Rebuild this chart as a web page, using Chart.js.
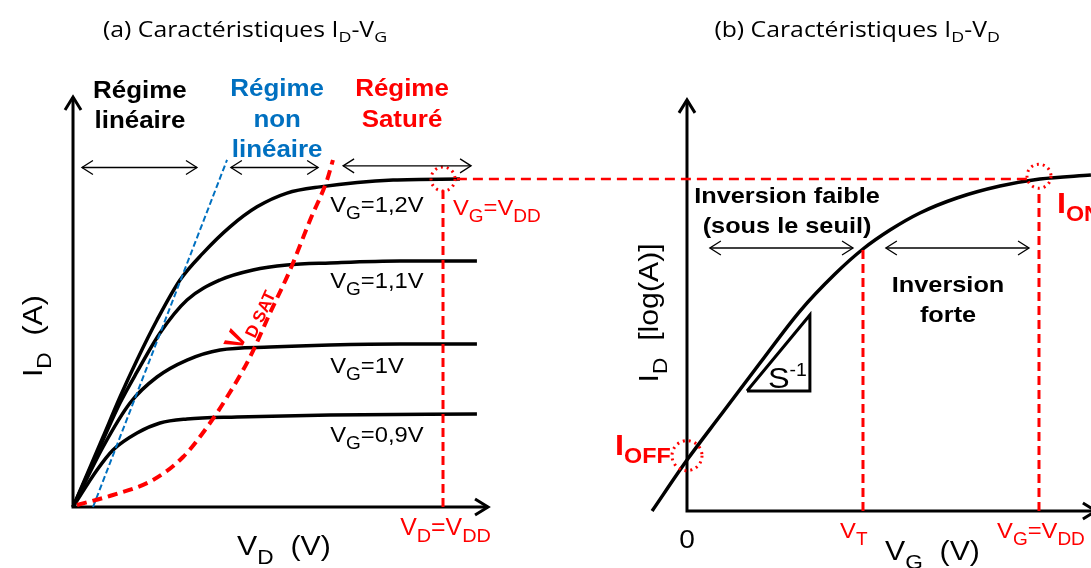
<!DOCTYPE html>
<html>
<head>
<meta charset="utf-8">
<script src="https://cdn.jsdelivr.net/npm/chart.js@4/dist/chart.umd.min.js"></script>
<style>
html, body { margin: 0; padding: 0; background: #fff; }
</style>
</head>
<body>
<canvas id="myChart" width="1091" height="568"></canvas>
<script>
const ctx = document.getElementById('myChart');
var myChart = null;

// tensions (V)
const VDD = 1.2;
const VT = 0.6;

// (a) ID-VD : une courbe par VG (ID normalise, 1 = ION)
const vdVg12 = [0, 0.0973, 0.1524, 0.2076, 0.2724, 0.347, 0.4216, 0.5092, 0.5968, 0.694, 0.801, 1.038, 1.255];
const idVg12 = [0, 0.2134, 0.3354, 0.4482, 0.570, 0.692, 0.774, 0.854, 0.915, 0.957, 0.976, 0.997, 1.0];
const vdVg11 = [0, 0.0973, 0.1524, 0.2076, 0.2822, 0.3697, 0.4768, 0.5838, 0.694, 0.8335, 1.0605, 1.31];
const idVg11 = [0, 0.2043, 0.317, 0.4116, 0.5305, 0.631, 0.692, 0.7226, 0.7378, 0.744, 0.75, 0.75];
const vdVg10 = [0, 0.0973, 0.1849, 0.2724, 0.3697, 0.4768, 0.639, 0.8335, 1.0605, 1.31];
const idVg10 = [0, 0.183, 0.317, 0.3963, 0.448, 0.4787, 0.4878, 0.4939, 0.497, 0.497];
const vdVg09 = [0, 0.0778, 0.1297, 0.2076, 0.2822, 0.3697, 0.5319, 0.8335, 1.31];
const idVg09 = [0, 0.1128, 0.1738, 0.2256, 0.2561, 0.2683, 0.2744, 0.2805, 0.2835];

// limite regime lineaire (bleu) et VD SAT (rouge)
const vdLin = [0.0649, 0.4995];
const idLin = [0, 1.058];
const vdSat = [0.013, 0.1297, 0.2595, 0.3568, 0.4443, 0.4995, 0.574, 0.639, 0.704, 0.769, 0.824, 0.843];
const idSat = [0.006, 0.0366, 0.0823, 0.1524, 0.256, 0.335, 0.457, 0.5915, 0.7226, 0.875, 0.997, 1.058];

// (b) ID-VG en log
const vgTrans = [-0.119, 0, 0.1125, 0.2489, 0.3853, 0.5045, 0.6, 0.692, 0.794, 0.92, 1.067, 1.203, 1.377];
const logIdTrans = [-10.0, -9.079, -8.283, -7.326, -6.386, -5.717, -5.265, -4.922, -4.614, -4.343, -4.127, -4.0, -3.928];
const logIon = -4.0;
const logIoff = -9.0;
const logMin = -10;

// triangle de pente S-1
const vgPente = [0.2045, 0.419, 0.419, 0.2045];
const logPente = [-7.832, -6.458, -7.832, -7.832];

// etiquettes des courbes
const labelsVg = ['V_{G}=1,2V', 'V_{G}=1,1V', 'V_{G}=1V', 'V_{G}=0,9V'];

const noir = '#000000';
const rouge = '#FF0000';
const bleu = '#0070C0';

function pts(xs, ys) {
    return xs.map((x, i) => ({ x: x, y: ys[i] }));
}

function courbe(xs, ys, couleur, largeur, tirets, panneau, ordre, lisse) {
    return {
        data: pts(xs, ys),
        borderColor: couleur,
        borderWidth: largeur,
        borderDash: tirets,
        borderCapStyle: 'butt',
        borderJoinStyle: 'miter',
        pointRadius: 0,
        fill: false,
        tension: 0,
        cubicInterpolationMode: lisse ? 'monotone' : 'default',
        xAxisID: panneau == 'L' ? 'xL' : 'xR',
        yAxisID: panneau == 'L' ? 'yL' : 'yR',
        order: ordre
    };
}

// texte avec indices _{..} et exposants ^{..}
function morceaux(t) {
    const out = [];
    const re = /([_^])\{([^}]*)\}/g;
    let last = 0, m;
    while ((m = re.exec(t)) !== null) {
        if (m.index > last) out.push([t.slice(last, m.index), 0]);
        out.push([m[2], m[1] == '_' ? 1 : 2]);
        last = re.lastIndex;
    }
    if (last < t.length) out.push([t.slice(last), 0]);
    return out;
}

function ecrire(c, px, py, it) {
    const fam = it.font || '"Liberation Sans", Arial, sans-serif';
    const gras = it.bold ? 'bold ' : '';
    const sub = it.sub || 0.8;
    const parts = morceaux(it.t);
    const fonte = k => gras + (k ? it.size * sub : it.size) + 'px ' + fam;
    let w = 0;
    parts.forEach(p => { c.font = fonte(p[1]); w += c.measureText(p[0]).width; });
    c.save();
    c.translate(px, py);
    if (it.rot) c.rotate(it.rot * Math.PI / 180);
    c.scale(it.sx || 1.08, 1);
    c.fillStyle = it.color || noir;
    c.textBaseline = 'alphabetic';
    let x = it.align == 'center' ? -w / 2 : 0;
    parts.forEach(p => {
        c.font = fonte(p[1]);
        const dy = p[1] == 1 ? it.size * (it.dsub || 0.33) : (p[1] == 2 ? -it.size * 0.4 : 0);
        c.fillText(p[0], x, dy);
        x += c.measureText(p[0]).width;
    });
    c.restore();
}

function fleche(c, x, y, dx, dy, len, demi) {
    const n = Math.hypot(dx, dy);
    const ux = dx / n, uy = dy / n;
    c.beginPath();
    c.moveTo(x - ux * len - uy * demi, y - uy * len + ux * demi);
    c.lineTo(x, y);
    c.lineTo(x - ux * len + uy * demi, y - uy * len - ux * demi);
    c.stroke();
}

function doubleFleche(c, a, b) {
    c.save();
    c.strokeStyle = noir;
    c.lineWidth = 1.3;
    c.setLineDash([]);
    c.beginPath();
    c.moveTo(a[0], a[1]);
    c.lineTo(b[0], b[1]);
    c.stroke();
    fleche(c, b[0], b[1], 1, 0, 11, 7);
    fleche(c, a[0], a[1], -1, 0, 11, 7);
    c.restore();
}

function cercle(c, p, r) {
    c.save();
    c.strokeStyle = rouge;
    c.lineWidth = 3;
    c.setLineDash([2, 4]);
    c.beginPath();
    c.arc(p[0], p[1], r, 0, Math.PI * 2);
    c.stroke();
    c.restore();
}

const textes = [
    { p: 'L', x: 0.217, y: 1.247, t: 'Régime', size: 24, bold: true, align: 'center' },
    { p: 'L', x: 0.217, y: 1.155, t: 'linéaire', size: 24, bold: true, align: 'center' },
    { p: 'L', x: 0.662, y: 1.253, t: 'Régime', size: 24, bold: true, align: 'center', color: bleu },
    { p: 'L', x: 0.662, y: 1.159, t: 'non', size: 24, bold: true, align: 'center', color: bleu },
    { p: 'L', x: 0.662, y: 1.067, t: 'linéaire', size: 24, bold: true, align: 'center', color: bleu },
    { p: 'L', x: 1.067, y: 1.253, t: 'Régime', size: 24, bold: true, align: 'center', color: rouge },
    { p: 'L', x: 1.067, y: 1.159, t: 'Saturé', size: 24, bold: true, align: 'center', color: rouge },
    { p: 'L', x: 0.834, y: 0.899, t: labelsVg[0], size: 22 },
    { p: 'L', x: 0.834, y: 0.668, t: labelsVg[1], size: 22 },
    { p: 'L', x: 0.834, y: 0.409, t: labelsVg[2], size: 22 },
    { p: 'L', x: 0.834, y: 0.198, t: labelsVg[3], size: 22 },
    { p: 'L', x: 1.232, y: 0.890, t: 'V_{G}=V_{DD}', size: 22, color: rouge },
    { p: 'L', x: 1.061, y: -0.085, t: 'V_{D}=V_{DD}', size: 23, color: rouge },
    { p: 'L', x: 0.532, y: -0.146, t: 'V_{D}  (V)', size: 28, sub: 0.75 },
    { p: 'L', x: -0.1005, y: 0.521, t: 'I_{D}  (A)', size: 28, rot: -90, align: 'center', sub: 0.75 },
    { p: 'L', x: 0.5416, y: 0.4726, t: 'V_{D SAT}', size: 27, bold: true, rot: -65, color: rouge, sx: 1.0, sub: 0.63, dsub: 0.3 },
    { p: 'L', x: 0.558, y: 1.433, t: '(a) Caractéristiques I_{D}-V_{G}', size: 21, font: '"Open Sans", sans-serif', align: 'center', sx: 1.18, sub: 0.72, dsub: 0.25 },
    { p: 'R', x: 0.341, y: -4.434, t: 'Inversion faible', size: 22, bold: true, align: 'center', sx: 1.15 },
    { p: 'R', x: 0.341, y: -4.976, t: '(sous le seuil)', size: 22, bold: true, align: 'center', sx: 1.15 },
    { p: 'R', x: 0.890, y: -6.042, t: 'Inversion', size: 22, bold: true, align: 'center', sx: 1.15 },
    { p: 'R', x: 0.890, y: -6.584, t: 'forte', size: 22, bold: true, align: 'center', sx: 1.15 },
    { p: 'R', x: 1.261, y: -4.614, t: 'I_{ON}', size: 30, bold: true, color: rouge, sub: 0.72, dsub: 0.27 },
    { p: 'R', x: -0.245, y: -8.988, t: 'I_{OFF}', size: 30, bold: true, color: rouge, sub: 0.72, dsub: 0.27 },
    { p: 'R', x: 0, y: -10.67, t: '0', size: 26, align: 'center' },
    { p: 'R', x: 0.522, y: -10.49, t: 'V_{T}', size: 22, color: rouge },
    { p: 'R', x: 1.057, y: -10.49, t: 'V_{G}=V_{DD}', size: 22, color: rouge },
    { p: 'R', x: 0.675, y: -10.886, t: 'V_{G}  (V)', size: 28, sub: 0.75 },
    { p: 'R', x: -0.099, y: -6.42, t: 'I_{D}  [log(A)]', size: 28, rot: -90, align: 'center', sub: 0.75 },
    { p: 'R', x: 0.276, y: -7.777, t: 'S^{-1}', size: 30, sub: 0.6 },
    { p: 'R', x: 0.58, y: -1.434, t: '(b) Caractéristiques I_{D}-V_{D}', size: 21, font: '"Open Sans", sans-serif', align: 'center', sx: 1.18, sub: 0.72, dsub: 0.25 }
];

const dessin = {
    id: 'dessin',
    beforeDatasetsDraw(chart) {
        const c = chart.ctx;
        const s = chart.scales;
        const L = (x, y) => [s.xL.getPixelForValue(x), s.yL.getPixelForValue(y)];
        const R = (x, y) => [s.xR.getPixelForValue(x), s.yR.getPixelForValue(y)];
        c.save();
        c.strokeStyle = noir;
        c.lineWidth = 3;
        c.lineCap = 'butt';
        // axes (a)
        let o = L(0, 0), ex = L(1.346, 0), ey = L(0, 1.25);
        c.beginPath();
        c.moveTo(ey[0], ey[1]); c.lineTo(o[0], o[1]); c.lineTo(ex[0], ex[1]);
        c.stroke();
        fleche(c, ex[0], ex[1], 1, 0, 13, 8);
        fleche(c, ey[0], ey[1], 0, -1, 13, 8);
        // axes (b)
        o = R(0, logMin); ex = R(1.394, logMin); ey = R(0, -2.57);
        c.beginPath();
        c.moveTo(ey[0], ey[1]); c.lineTo(o[0], o[1]); c.lineTo(ex[0], ex[1]);
        c.stroke();
        fleche(c, ex[0], ex[1], 1, 0, 13, 8);
        fleche(c, ey[0], ey[1], 0, -1, 13, 8);
        c.restore();
    },
    afterDatasetsDraw(chart) {
        const c = chart.ctx;
        const s = chart.scales;
        const L = (x, y) => [s.xL.getPixelForValue(x), s.yL.getPixelForValue(y)];
        const R = (x, y) => [s.xR.getPixelForValue(x), s.yR.getPixelForValue(y)];

        // liaison ID,sat -> ION
        const a = L(VDD + 0.045, 1.0), b = R(VDD - 0.037, logIon);
        c.save();
        c.strokeStyle = rouge;
        c.lineWidth = 2.5;
        c.setLineDash([10, 6]);
        c.beginPath();
        c.moveTo(a[0], a[1]);
        c.lineTo(b[0], b[1]);
        c.stroke();
        c.restore();

        cercle(c, L(VDD, 1.0), 12);
        cercle(c, R(VDD, -3.95), 12);
        cercle(c, R(0, logIoff), 15);

        doubleFleche(c, L(0.029, 1.035), L(0.402, 1.035));
        doubleFleche(c, L(0.512, 1.035), L(0.795, 1.035));
        doubleFleche(c, L(0.876, 1.04), L(1.291, 1.04));
        doubleFleche(c, R(0.078, -5.247), R(0.566, -5.247));
        doubleFleche(c, R(0.678, -5.247), R(1.166, -5.247));

        textes.forEach(it => {
            const p = it.p == 'L' ? L(it.x, it.y) : R(it.x, it.y);
            ecrire(c, p[0], p[1], it);
        });
    }
};

myChart = new Chart(ctx, {
    type: 'line',
    data: {
        datasets: [
            courbe(vdSat, idSat, rouge, 4, [10, 6], 'L', 0, true),
            courbe([VDD, VDD], [0, 0.966], rouge, 3, [9, 5], 'L', 0, false),
            courbe([VT, VT], [logMin, -5.265], rouge, 3, [9, 5], 'R', 0, false),
            courbe([VDD, VDD], [logMin, -4.2], rouge, 3, [9, 5], 'R', 0, false),
            courbe(vdLin, idLin, bleu, 2, [6, 3], 'L', 1, false),
            courbe(vdVg12, idVg12, noir, 3.5, [], 'L', 2, true),
            courbe(vdVg11, idVg11, noir, 3.5, [], 'L', 2, true),
            courbe(vdVg10, idVg10, noir, 3.5, [], 'L', 2, true),
            courbe(vdVg09, idVg09, noir, 3.5, [], 'L', 2, true),
            courbe(vgTrans, logIdTrans, noir, 3.5, [], 'R', 2, true),
            courbe(vgPente, logPente, noir, 3, [], 'R', 2, false)
        ]
    },
    options: {
        responsive: false,
        animation: false,
        devicePixelRatio: 1,
        events: [],
        layout: { padding: 0 },
        plugins: {
            legend: { display: false },
            tooltip: { enabled: false }
        },
        scales: {
            xL: { type: 'linear', axis: 'x', position: 'bottom', min: -0.2368, max: 3.3016, display: false },
            yL: { type: 'linear', axis: 'y', position: 'left', min: -0.186, max: 1.5457, display: false },
            xR: { type: 'linear', axis: 'x', position: 'bottom', min: -2.342, max: 1.3773, display: false },
            yR: { type: 'linear', axis: 'y', position: 'left', min: -11.03, max: -0.765, display: false }
        }
    },
    plugins: [dessin]
});
</script>
</body>
</html>
